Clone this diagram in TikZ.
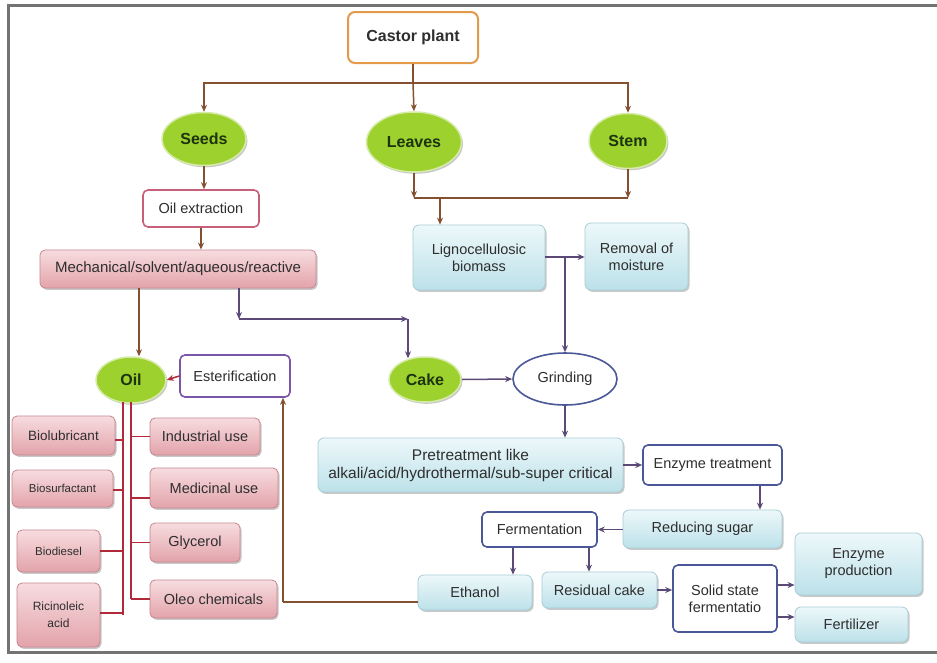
\documentclass[tikz,border=0pt]{standalone}
\usepackage{fontspec}
\setmainfont{Liberation Sans}
\usetikzlibrary{arrows.meta,shadows,shapes.geometric}
\definecolor{brn}{HTML}{84502F}
\definecolor{pur}{HTML}{5B4A78}
\definecolor{rdl}{HTML}{B02A3A}
\definecolor{estb}{HTML}{7A55A8}
\definecolor{blub}{HTML}{4A5898}
\definecolor{orab}{HTML}{E39A4A}
\definecolor{oxb}{HTML}{C8607A}
\definecolor{pinkt}{HTML}{F7DCDF}
\definecolor{pinkb}{HTML}{E2A3AA}
\definecolor{pinkd}{HTML}{C78790}
\definecolor{bluet}{HTML}{EDF8FA}
\definecolor{blueb}{HTML}{BCE1E9}
\definecolor{blued}{HTML}{A8CDD6}
\definecolor{grn}{HTML}{9DD12E}
\definecolor{grnd}{HTML}{D6EBA8}
\definecolor{txt}{HTML}{2E2E2E}
\definecolor{gtxt}{HTML}{1C3410}
\tikzset{
  shd/.style={drop shadow={shadow xshift=1.5pt,shadow yshift=-1.8pt,opacity=0.3,fill=black!70}},
  base/.style={inner sep=0pt,align=center,text=txt,font=\fontsize{14.5}{17}\selectfont},
  pinkbox/.style={base,shd,rectangle,rounded corners=5pt,draw=pinkd,line width=0.8pt,top color=pinkt,bottom color=pinkb},
  bluebox/.style={base,shd,rectangle,rounded corners=6pt,draw=blued,line width=0.8pt,top color=bluet,bottom color=blueb},
  wbox/.style={base,rectangle,rounded corners=5pt,draw=blub,line width=1.6pt,fill=white},
  gell/.style={ellipse,inner sep=0pt,shd,fill=grn,draw=grnd,line width=1.5pt,text=gtxt,font=\fontsize{16}{19}\selectfont\bfseries},
  tip/.style={-{Stealth[length=7pt,width=6pt]}},
  brl/.style={draw=brn,line width=1.5pt},
  bra/.style={brl,tip},
  pul/.style={draw=pur,line width=1.5pt},
  pua/.style={pul,tip},
  rdl/.style={draw=rdl,line width=1.5pt},
  rda/.style={rdl,tip}
}
\begin{document}
\begin{tikzpicture}[x=1pt,y=-1pt]
\useasboundingbox (0,0) rectangle (937,662);
\fill[white] (0,0) rectangle (937,662);
\draw[black!55,line width=3pt] (937,5) -- (8,5) -- (8,652) -- (937,652);
% nodes
\node[base,rectangle,rounded corners=7pt,draw=orab,line width=2pt,fill=white,minimum width=130pt,minimum height=51pt,font=\fontsize{16}{19}\selectfont\bfseries] (castor) at (413,37.5) {Castor plant};
\node[gell,minimum width=84pt,minimum height=53pt] (seeds) at (204,139) {Seeds};
\node[gell,minimum width=95pt,minimum height=60pt] (leaves) at (414,142) {Leaves};
\node[gell,minimum width=78pt,minimum height=55pt] (stem) at (628,141) {Stem};
\node[base,rectangle,rounded corners=5pt,draw=oxb,line width=1.6pt,fill=white,minimum width=116pt,minimum height=37pt] (oilext) at (201,208.5) {Oil extraction};
\node[pinkbox,minimum width=276pt,minimum height=38pt,font=\fontsize{15}{18}\selectfont] (mech) at (178,269) {Mechanical/solvent/aqueous/reactive};
\node[gell,minimum width=70pt,minimum height=46pt] (oil) at (131,380) {Oil};
\node[base,rectangle,rounded corners=5pt,draw=estb,line width=1.6pt,fill=white,minimum width=110pt,minimum height=42pt] (ester) at (235,376) {Esterification};
\node[gell,minimum width=72pt,minimum height=45pt] (cake) at (425,379.5) {Cake};
\node[base,ellipse,draw=blub,line width=1.6pt,fill=white,minimum width=104pt,minimum height=52pt] (grind) at (565,379) {Grinding};
\node[bluebox,minimum width=132pt,minimum height=65pt] (ligno) at (479,257.5) {Lignocellulosic\\biomass};
\node[bluebox,minimum width=103pt,minimum height=67pt] (removal) at (636.5,256.5) {Removal of\\moisture};
\node[bluebox,minimum width=305pt,minimum height=54pt,font=\fontsize{15.5}{18}\selectfont] (pretreat) at (470.5,465) {Pretreatment like\\alkali/acid/hydrothermal/sub-super critical};
\node[wbox,minimum width=139pt,minimum height=40pt] (enztreat) at (712.5,465) {Enzyme treatment};
\node[bluebox,minimum width=159pt,minimum height=38pt] (redsugar) at (702.5,529) {Reducing sugar};
\node[wbox,minimum width=115pt,minimum height=35pt] (ferment) at (539.5,529.5) {Fermentation};
\node[bluebox,minimum width=114pt,minimum height=35pt] (ethanol) at (475,592.5) {Ethanol};
\node[bluebox,minimum width=115pt,minimum height=36pt] (rescake) at (599.5,590) {Residual cake};
\node[wbox,minimum width=104pt,minimum height=67pt] (solid) at (725,598.5) {Solid state\\fermentatio};
\node[bluebox,minimum width=127pt,minimum height=62pt] (enzprod) at (858.5,564) {Enzyme\\production};
\node[bluebox,minimum width=113pt,minimum height=35pt] (fert) at (851.5,624.5) {Fertilizer};
\node[pinkbox,minimum width=103pt,minimum height=39pt,font=\fontsize{13.5}{16}\selectfont] (biolub) at (63.5,435.5) {Biolubricant};
\node[pinkbox,minimum width=101pt,minimum height=37pt,font=\fontsize{11.5}{14}\selectfont] (biosurf) at (62.5,488.5) {Biosurfactant};
\node[pinkbox,minimum width=83pt,minimum height=42pt,font=\fontsize{11.5}{14}\selectfont] (biodiesel) at (58.5,551) {Biodiesel};
\node[pinkbox,minimum width=83pt,minimum height=64pt,font=\fontsize{12}{17}\selectfont] (ricin) at (58.5,615) {Ricinoleic\\acid};
\node[pinkbox,minimum width=110pt,minimum height=37pt] (indus) at (205,436.5) {Industrial use};
\node[pinkbox,minimum width=128pt,minimum height=40pt] (medic) at (214,488) {Medicinal use};
\node[pinkbox,minimum width=90pt,minimum height=39pt] (glyc) at (195,542.5) {Glycerol};
\node[pinkbox,minimum width=127pt,minimum height=38pt] (oleo) at (213.5,599) {Oleo chemicals};
% coordinates
\coordinate (bj) at (413,83);
\coordinate (lj) at (440,198);
\coordinate (m1) at (239,319);
\coordinate (cj) at (408,319);
\coordinate (gj) at (565,257);
\coordinate (oa) at (123,402);
\coordinate (ob) at (131,402);
\coordinate (ej) at (283,602);
% connectors top
\draw[brl] (castor.south) -- (bj);
\draw[bra] (bj) -| (seeds.north);
\draw[bra] (bj) -- (leaves.north);
\draw[bra] (bj) -| (stem.north);
\draw[bra] (leaves.south) -- (leaves.south |- lj);
\draw[bra] (stem.south) -- (stem.south |- lj);
\draw[brl] (leaves.south |- lj) -- (stem.south |- lj);
\draw[bra] (lj) -- (lj |- ligno.north);
\draw[bra] (seeds.south) -- (seeds.south |- oilext.north);
\draw[bra] (oilext.south) -- (oilext.south |- mech.north);
\draw[bra] ([xshift=8pt]oil.north |- mech.south) -- ([xshift=8pt]oil.north |- oil.north);
\draw[pua] (m1 |- mech.south) -- (m1);
\draw[pua] (m1) -- (cj);
\draw[pua] (cj) -- ([yshift=-2pt]cj |- cake.north);
\draw[pua] (cake.east) -- (grind.west);
\draw[pua] (ligno.east |- gj) -- (removal.west |- gj);
\draw[pua] (gj) -- (grind.north);
\draw[pua] (grind.south) -- (grind.south |- pretreat.north);
\draw[pua] (pretreat.east |- enztreat.west) -- (enztreat.west);
\draw[pua] ([xshift=47.5pt]enztreat.south) -- ([xshift=47.5pt]enztreat.south |- redsugar.north);
\draw[pua] (redsugar.west |- ferment.east) -- (ferment.east);
\draw[pua] ([xshift=-26.5pt]ferment.south) -- ([xshift=-26.5pt]ferment.south |- ethanol.north);
\draw[pua] ([xshift=49.5pt]ferment.south) -- ([xshift=49.5pt]ferment.south |- rescake.north);
\draw[pua] (rescake.east) -- (rescake.east -| solid.west);
\draw[pua] ([yshift=13.5pt]solid.east) -- ([yshift=13.5pt]solid.east -| enzprod.west);
\draw[pua] ([yshift=-18.5pt]solid.east) -- ([yshift=-18.5pt]solid.east -| fert.west);
\draw[brl] (ethanol.west |- ej) -- (ej);
\draw[bra] (ej) -- (ej |- ester.south);
\draw[rda] (ester.west) -- (oil.east);
% oil branches
\draw[rdl] (oa) -- (oa |- ricin.east);
\draw[rdl] (ob) -- (ob |- oleo.west);
\draw[rdl] ([yshift=-4.5pt]biolub.east) -- ([yshift=-4.5pt]biolub.east -| oa);
\draw[rdl] ([yshift=-1.5pt]biosurf.east) -- ([yshift=-1.5pt]biosurf.east -| oa);
\draw[rdl] (biodiesel.east) -- (biodiesel.east -| oa);
\draw[rdl] ([yshift=2pt]ricin.east) -- ([yshift=2pt]ricin.east -| oa);
\draw[rdl] (indus.west) -- (indus.west -| ob);
\draw[rdl] ([yshift=-10pt]medic.west) -- ([yshift=-10pt]medic.west -| ob);
\draw[rdl] (glyc.west) -- (glyc.west -| ob);
\draw[rdl] (oleo.west) -- (oleo.west -| ob);
\end{tikzpicture}
\end{document}
